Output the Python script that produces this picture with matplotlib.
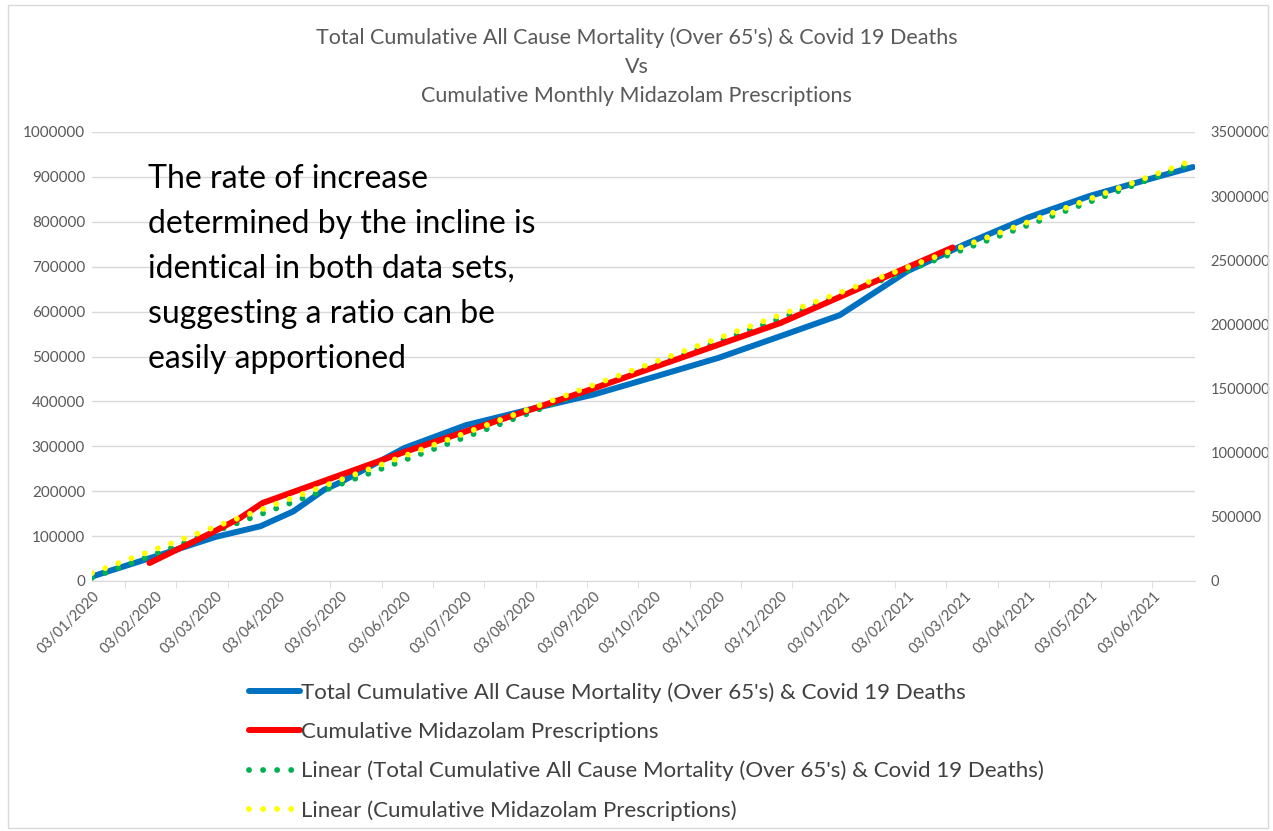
import matplotlib
matplotlib.use("Agg")
import matplotlib.pyplot as plt
import numpy as np

plt.rcParams['font.family'] = ['Lato', 'DejaVu Sans']

# blue: total cumulative all cause mortality (over 65's) & covid deaths, left axis
blue_dates = np.array(['2020-01-03', '2020-02-03', '2020-03-03', '2020-03-25', '2020-04-10',
                       '2020-04-25', '2020-05-03', '2020-06-03', '2020-07-03', '2020-08-03',
                       '2020-09-03', '2020-10-03', '2020-11-03', '2020-12-03', '2021-01-01',
                       '2021-02-03', '2021-03-03', '2021-04-03', '2021-05-03', '2021-06-03',
                       '2021-06-22'], dtype='datetime64[D]')
blue_vals = [10000, 55000, 98000, 122000, 155000, 203000, 220000, 296000, 347000, 382000,
             415000, 455000, 497000, 545000, 592000, 690000, 750000, 810000, 858000, 898000,
             922000]

# red: cumulative midazolam prescriptions, right axis
red_dates = np.array(['2020-01-31', '2020-03-01', '2020-03-15', '2020-03-26', '2020-06-03',
                      '2020-09-03', '2020-12-03', '2021-02-25'], dtype='datetime64[D]')
red_vals = [140000, 374000, 490000, 608000, 1005000, 1500000, 2010000, 2600000]

# linear trendlines (end points)
trend_dates = np.array(['2020-01-03', '2021-06-22'], dtype='datetime64[D]')
green_trend = [7000, 931000]
yellow_trend = [62000, 3280000]

left_ticks = np.arange(0, 1000001, 100000)
right_ticks = np.arange(0, 3500001, 500000)
label_dates = np.array(['2020-%02d-03' % m for m in range(1, 13)] +
                       ['2021-%02d-03' % m for m in range(1, 7)], dtype='datetime64[D]')

W, H = 1273, 831
fig = plt.figure(figsize=(W / 100, H / 100), dpi=100)
ax = fig.add_axes([92 / W, 1 - 581 / H, (1195 - 92) / W, (581 - 132) / H])
ax2 = ax.twinx()

gray = '#595959'

ax.plot(blue_dates, blue_vals, color='#0070C0', lw=4.3, solid_capstyle='round',
        label="Total Cumulative All Cause Mortality (Over 65's) & Covid 19 Deaths", zorder=3)
ax.plot(trend_dates, green_trend, color='#00B050', lw=4.2, linestyle=(0, (0.01, 2.4)),
        dash_capstyle='round', zorder=4,
        label="Linear (Total Cumulative All Cause Mortality (Over 65's) & Covid 19 Deaths)")
ax2.plot(red_dates, red_vals, color='#FF0000', lw=4.3, solid_capstyle='round',
         label='Cumulative Midazolam Prescriptions', zorder=3)
ax2.plot(trend_dates, yellow_trend, color='#FFFF00', lw=4.2, linestyle=(0, (0.01, 2.4)),
         dash_capstyle='round', zorder=4, label='Linear (Cumulative Midazolam Prescriptions)')

ax.set_ylim(0, 1000000)
ax2.set_ylim(0, 3500000)
ax.set_xlim(np.datetime64('2020-01-03'), np.datetime64('2021-06-23'))

ax.set_yticks(left_ticks)
ax.set_yticklabels([str(v) for v in left_ticks])
ax2.set_yticks(right_ticks)
ax2.set_yticklabels([str(v) for v in right_ticks])
ax.yaxis.grid(True, color='#D9D9D9', lw=1)
ax.set_axisbelow(True)

for a in (ax, ax2):
    for s in a.spines.values():
        s.set_visible(False)
ax.spines['bottom'].set_visible(True)
ax.spines['bottom'].set_color('#D9D9D9')

ax.tick_params(axis='y', length=0, labelsize=11, labelcolor=gray, pad=5)
ax2.tick_params(axis='y', length=0, labelsize=10.5, labelcolor=gray, pad=11)

ax.set_xticks(label_dates)
ax.set_xticklabels([str(d)[8:10] + '/' + str(d)[5:7] + '/' + str(d)[0:4] for d in label_dates],
                   rotation=45, ha='right', rotation_mode='anchor')
ax.tick_params(axis='x', length=0, labelsize=10.5, labelcolor=gray, pad=6)
minor = np.arange(np.datetime64('2020-01-19'), np.datetime64('2021-06-23'), 25)
ax.set_xticks(minor, minor=True)
ax.tick_params(axis='x', which='minor', length=5, color='#D9D9D9', direction='out')

fig.text(0.5, 1 - 67 / H, "Total Cumulative All Cause Mortality (Over 65's) & Covid 19 Deaths\nVs\n"
         "Cumulative Monthly Midazolam Prescriptions", ha='center', va='center', fontsize=15.5,
         color=gray, linespacing=1.55)

fig.text(148 / W, 1 - 164 / H, "The rate of increase\ndetermined by the incline is\n"
         "identical in both data sets,\nsuggesting a ratio can be\neasily apportioned",
         ha='left', va='top', fontsize=23, color='black', linespacing=1.62)

h1, l1 = ax.get_legend_handles_labels()
h2, l2 = ax2.get_legend_handles_labels()
handles = [h1[0], h2[0], h1[1], h2[1]]
labels = [l1[0], l2[0], l1[1], l2[1]]
leg = fig.legend(handles, labels, loc='upper left', bbox_to_anchor=(229 / W, 1 - 662 / H),
                 frameon=False, fontsize=16, handlelength=2.3, handletextpad=0.05,
                 labelspacing=0.86, labelcolor='#404040')

fig.patches.append(plt.Rectangle((0.006, 0.004), 0.99, 0.99, transform=fig.transFigure,
                                 fill=False, edgecolor='#D9D9D9', lw=1))

fig.savefig('out.png', dpi=100)
